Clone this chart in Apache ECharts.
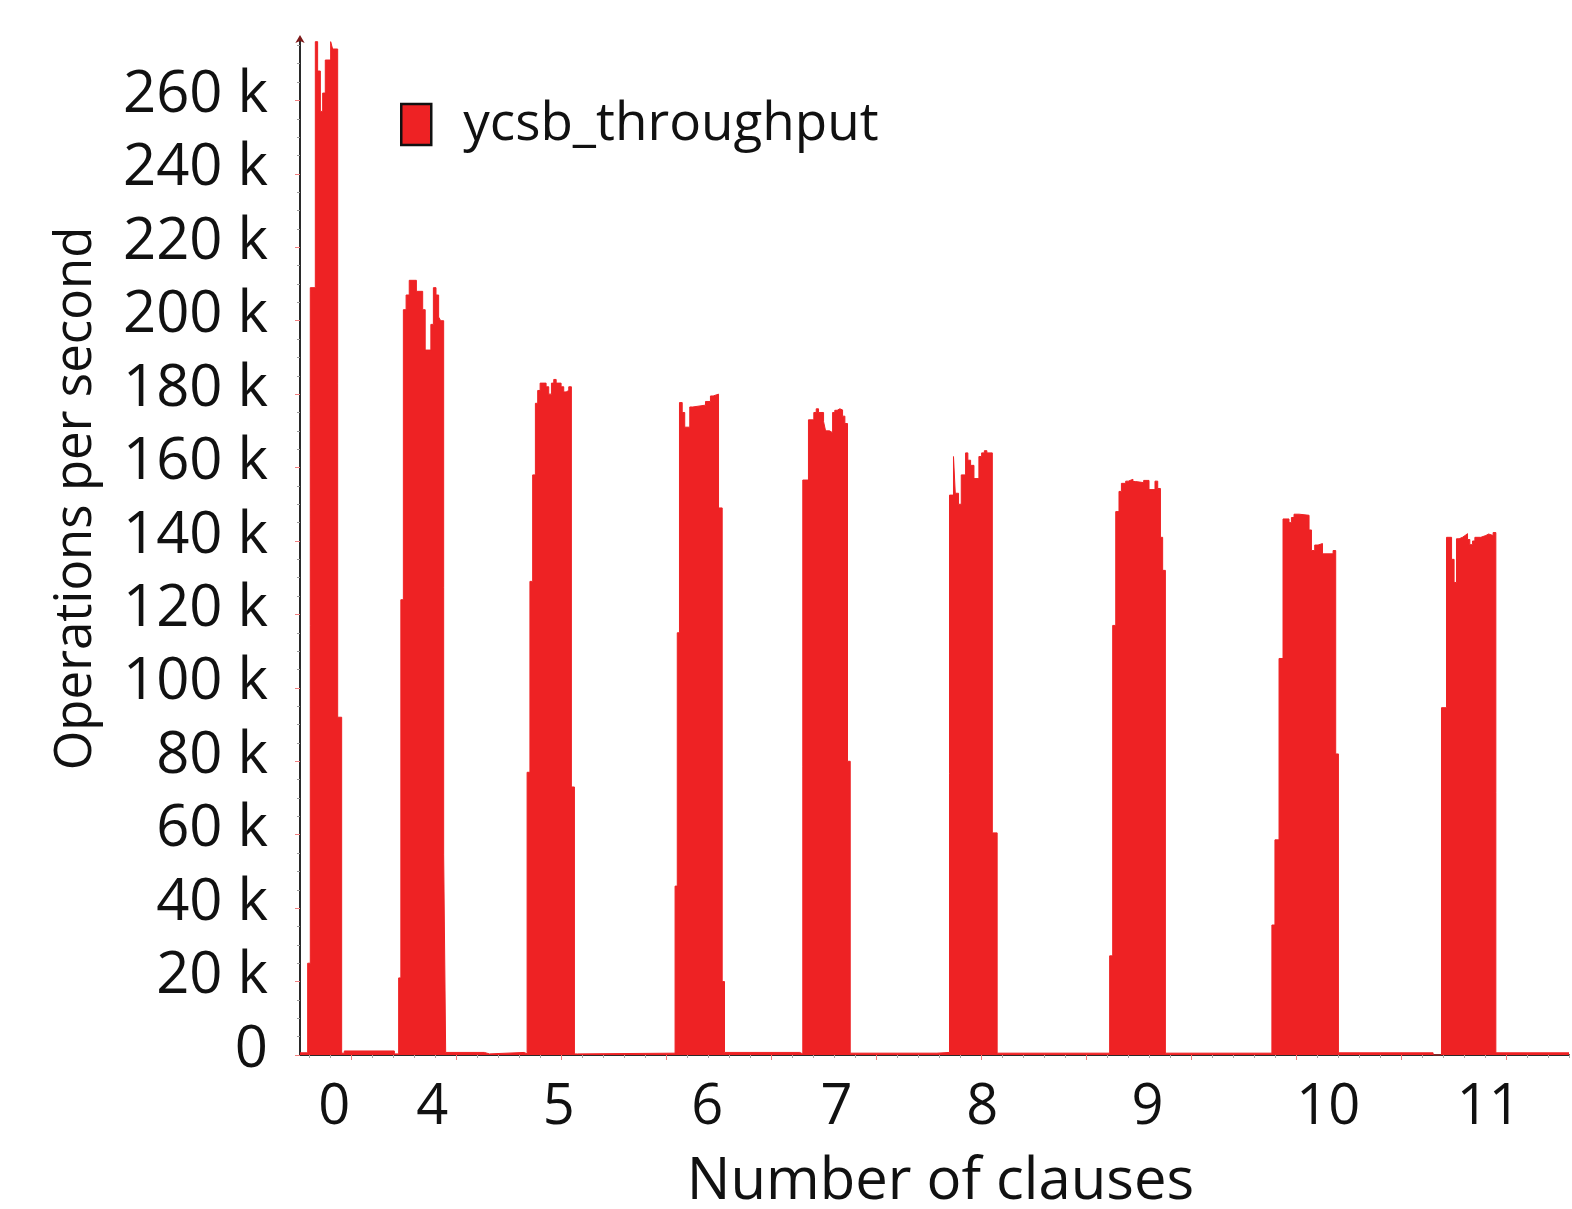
<!DOCTYPE html>
<html>
<head>
<meta charset="utf-8">
<script src="https://cdn.jsdelivr.net/npm/echarts@6/dist/echarts.min.js"></script>
<style>
  html, body { margin: 0; padding: 0; background: #ffffff; }
  #chart { width: 1572px; height: 1209px; }
</style>
</head>
<body>
<div id="chart"></div>
<script>
// YCSB throughput over the run, one step per sample (time in minutes)
const minutes = [
  5.08, 5.81, 6.06, 6.54, 6.76, 7.02, 7.24, 7.49, 8.00, 8.19, 8.67, 9.05, 9.30, 14.07,
  14.48, 14.69, 14.93, 15.19, 15.49, 16.17, 16.77, 17.01, 17.55, 17.79, 18.04, 18.29, 18.48, 18.77,
  18.96, 22.65, 23.13, 26.46,
  26.72, 26.99, 27.25, 27.51, 27.73, 27.96, 28.53, 28.78, 29.04, 29.26, 29.49, 29.96, 30.21, 30.44, 30.69, 30.94,
  31.23, 31.52,
  40.82, 41.03, 41.24, 41.50, 41.74, 42.22, 42.51, 43.72, 44.19, 44.45, 44.96, 45.31,
  45.53, 52.71,
  52.99, 53.53, 54.04, 54.27, 54.49, 54.97, 55.16, 55.54, 55.83, 56.04, 56.27, 56.52, 56.78, 57.00, 57.25,
  57.51, 65.77,
  66.97, 67.35, 67.52, 67.83, 68.09, 68.50, 68.72, 68.98, 69.30, 69.77, 70.03, 70.29, 70.53, 71.05,
  71.51,
  82.23, 82.52, 82.81, 83.12, 83.35, 83.76, 84.01, 84.45, 84.68, 85.47, 85.98, 86.55, 86.81, 87.07, 87.28,
  87.54,
  97.69, 97.98, 98.37, 98.75, 99.32, 99.55, 99.80, 100.28, 101.23, 101.46, 101.77, 102.09, 102.51, 103.52, 103.77,
  104.03, 113.05,
  113.85, 114.33, 114.81, 115.05, 115.28, 115.53, 115.85, 116.10, 116.33, 116.55, 116.81, 117.03, 117.60, 118.08, 118.34, 118.77,
  119.03, 126.00
];
const opsPerSecond = [
  600, 25000, 209000, 276000, 268000, 257000, 262000, 271000, 276000, 274000, 92000, 500, 1100, 300,
  21000, 124000, 203000, 207000, 211000, 208000, 203000, 192000, 199000, 209000, 207000, 201000, 200000, 54500,
  700, 300, 700, 300,
  77000, 129000, 158000, 177500, 181000, 183000, 182000, 180000, 183000, 184000, 183000, 182000, 180600, 181000, 182000, 73000,
  300, 500,
  46000, 115000, 177700, 175000, 171000, 176500, 177000, 178000, 179500, 180000, 149000, 20000,
  700, 300,
  156600, 173000, 175000, 176000, 175000, 172500, 170000, 169500, 175000, 175600, 176000, 175700, 174000, 172000, 80000,
  500, 700,
  152500, 163000, 153000, 150000, 158000, 164000, 162000, 160600, 157000, 163000, 164000, 164600, 164000, 60500,
  500,
  27000, 117000, 148000, 153500, 155700, 156300, 156800, 156200, 155900, 156500, 154000, 156300, 154300, 141000, 132000,
  500,
  35400, 58600, 108000, 146000, 145000, 146400, 147300, 147000, 143000, 137400, 138900, 139300, 136500, 137400, 82000,
  600, 0,
  94600, 141000, 135000, 128700, 140600, 141000, 141500, 142000, 140400, 139000, 140000, 141000, 141500, 141900, 141500, 142300,
  600, 600
];
// Clause count of each run and where its label sits on the time axis
const clauseLabels = ['0', '4', '5', '6', '7', '8', '9', '10', '11'];
const clauseLabelMinutes = [8.34, 17.69, 29.74, 43.89, 56.21, 70.08, 85.84, 103.05, 118.35];

const X_MIN = 5.08, X_MAX = 126;
const Y_MAX = 277000;
const RED = '#ee2224';
const FONT = "'Open Sans', sans-serif";

function steps(from, to, step) {
  const out = [];
  for (let v = from; v <= to + 1e-9; v += step) out.push(Math.round(v * 1000) / 1000);
  return out;
}
const xMinorTicks = steps(6, 126, 2).filter(v => v % 10 !== 0);
const xMajorTicks = steps(10, 120, 10);
const yMinorTicks = steps(5000, 275000, 5000).filter(v => v % 20000 !== 0);
const yMajorTicks = steps(0, 260000, 20000);

function timeAxis(position, ticks, color, length, inside, extra) {
  return Object.assign({
    type: 'value', position, min: X_MIN, max: X_MAX,
    axisLine: { show: false },
    axisTick: { show: true, inside, length, customValues: ticks, lineStyle: { color, width: 1 } },
    axisLabel: { show: false },
    splitLine: { show: false }
  }, extra || {});
}

function plainValueAxis(extra) {
  return Object.assign({
    type: 'value', position: 'left', min: 0, max: Y_MAX,
    axisLine: { show: false },
    axisTick: { show: false },
    axisLabel: { show: false },
    splitLine: { show: false }
  }, extra || {});
}

const chart = echarts.init(document.getElementById('chart'), null, { renderer: 'canvas' });
chart.setOption({
  animation: false,
  backgroundColor: '#ffffff',
  grid: { left: 300, right: 3, top: 38, bottom: 154, outerBoundsMode: 'none' },
  legend: {
    left: 395, top: 93,
    icon: 'rect', itemWidth: 30, itemHeight: 41,
    itemStyle: { color: RED, borderColor: '#111111', borderWidth: 2.5 },
    textStyle: { fontFamily: FONT, fontSize: 53, color: '#111111', padding: [0, 0, 0, 27] },
    data: ['ycsb_throughput']
  },
  xAxis: [
    timeAxis('bottom', xMinorTicks, '#9a9a9a', 3, false, {
      name: 'Number of clauses', nameLocation: 'middle', nameGap: 98,
      nameTextStyle: { fontFamily: FONT, fontSize: 58, color: '#111111', padding: [0, 0, 0, 12] },
      axisLine: { show: true, onZero: false, lineStyle: { color: '#2a2a2a', width: 2 } },
      axisLabel: {
        show: true, customValues: clauseLabelMinutes, margin: 25,
        fontFamily: FONT, fontSize: 56, color: '#111111',
        formatter: v => {
          const i = clauseLabelMinutes.findIndex(m => Math.abs(m - v) < 1e-6);
          return i >= 0 ? clauseLabels[i] : '';
        }
      }
    }),
    timeAxis('bottom', xMajorTicks, '#f08080', 5, false),
    timeAxis('top', xMinorTicks, '#a8a8a8', 3, true),
    timeAxis('top', xMajorTicks, '#f08080', 3, true)
  ],
  yAxis: [
    // dark red arrow head at the top of the value axis
    plainValueAxis({
      axisLine: {
        show: true, onZero: false, lineStyle: { color: '#7d1919', width: 2 },
        symbol: ['none', 'arrow'], symbolSize: [7, 8], symbolOffset: [0, 3]
      }
    }),
    plainValueAxis({
      name: 'Operations per second', nameLocation: 'middle', nameGap: 198, nameRotate: 90,
      nameTextStyle: { fontFamily: FONT, fontSize: 51, color: '#111111', padding: [0, 0, 0, 96] },
      axisLine: { show: true, onZero: false, lineStyle: { color: '#2a2a2a', width: 2 } },
      axisTick: { show: true, length: 5, customValues: yMajorTicks, lineStyle: { color: '#f08080', width: 1 } },
      axisLabel: {
        show: true, customValues: yMajorTicks, margin: 32,
        verticalAlign: 'bottom', lineHeight: 10,
        fontFamily: FONT, fontSize: 58, color: '#111111',
        formatter: v => (v === 0 ? '0' : (v / 1000) + ' k')
      }
    }),
    plainValueAxis({
      axisTick: { show: true, length: 3, customValues: yMinorTicks, lineStyle: { color: '#9a9a9a', width: 1 } }
    })
  ],
  series: [{
    name: 'ycsb_throughput',
    type: 'line',
    xAxisIndex: 0, yAxisIndex: 1,
    step: 'end',
    symbol: 'none', showSymbol: false,
    color: RED,
    itemStyle: { color: RED },
    lineStyle: { color: RED, width: 1 },
    areaStyle: { color: RED, opacity: 1 },
    data: minutes.map((m, i) => [m, opsPerSecond[i]]),
    silent: true
  }]
});
</script>
</body>
</html>
